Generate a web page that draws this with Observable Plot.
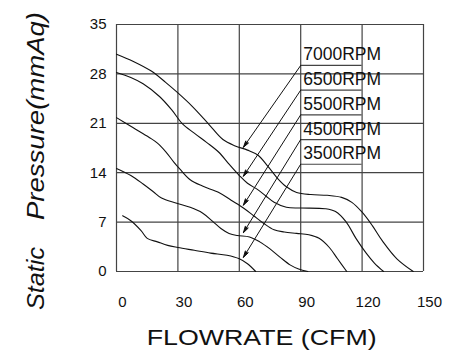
<!DOCTYPE html>
<html>
<head>
<meta charset="utf-8">
<script src="https://cdn.jsdelivr.net/npm/d3@7"></script>
<script src="https://cdn.jsdelivr.net/npm/@observablehq/plot@0.6"></script>
<style>
  html, body { margin: 0; padding: 0; background: #fff; }
  #chart { width: 473px; height: 361px; }
</style>
</head>
<body>
<div id="chart"></div>
<script>
// ---- data ----
const xTicks = [0, 30, 60, 90, 120, 150];
const yTicks = [0, 7, 14, 21, 28, 35];
const rpmLabels = ["7000RPM", "6500RPM", "5500RPM", "4500RPM", "3500RPM"];

const flow7000 = [0, 8, 17, 24, 30, 37, 45, 52, 58, 64, 69, 74, 79, 83, 88, 95, 103, 110, 115, 120, 125, 130, 137, 145];
const pres7000 = [30.8, 29.8, 28.4, 26.8, 25.3, 23.4, 20.9, 18.7, 17.8, 17.2, 16.5, 14.9, 13.1, 12.0, 11.2, 10.9, 10.8, 10.5, 9.8, 8.4, 6.5, 4.3, 1.8, 0];

const flow6500 = [0, 7, 13, 21, 27, 32, 38, 44, 50, 55, 60, 64, 69, 73, 77, 83, 90, 102, 107, 112, 117, 122, 126, 130.5];
const pres6500 = [28.2, 27.5, 26.6, 24.8, 22.9, 21.0, 19.6, 18.3, 16.9, 15.2, 13.6, 12.5, 11.6, 10.7, 9.8, 9.1, 9.0, 8.9, 8.5, 7.1, 4.7, 2.6, 1.2, 0];

const flow5500 = [0, 8, 16, 20, 24, 28, 31, 36, 42, 50, 56, 62, 67, 72, 77, 82, 88, 94, 99, 104, 108, 112.5];
const pres5500 = [21.8, 20.4, 19.0, 18.2, 17.0, 15.5, 14.5, 13.0, 12.1, 11.2, 10.1, 9.0, 7.9, 6.8, 5.9, 5.6, 5.4, 5.2, 4.7, 3.4, 1.8, 0];

const flow4500 = [0, 7, 13, 18, 22, 29, 36, 42, 47, 51, 55, 59, 65, 70, 75, 80, 85, 89, 93.5];
const pres4500 = [14.6, 13.6, 12.4, 11.3, 10.4, 9.7, 9.1, 8.3, 7.1, 6.1, 5.4, 5.1, 4.9, 4.2, 3.2, 2.0, 0.9, 0.35, 0];

const flow3500 = [3, 7, 12, 15, 20, 25, 30, 38, 46, 54, 60, 64, 68];
const pres3500 = [7.9, 7.2, 5.8, 4.7, 4.2, 3.7, 3.4, 3.0, 2.6, 2.3, 1.8, 1.1, 0];

// annotation values (data units)
const labelFlowStart = [90, 90, 90, 90, 90];
const labelFlowEnd = [120, 120, 120, 120, 120];
const labelPressure = [29.2, 25.7, 22.2, 18.7, 15.2];
const arrowTipFlow = [62, 62, 62, 62, 62];
const arrowTipPressure = [17.6, 13.5, 9.4, 5.5, 2.0];

// ---- build tables ----
const seriesFlows = [flow7000, flow6500, flow5500, flow4500, flow3500];
const seriesPres = [pres7000, pres6500, pres5500, pres4500, pres3500];
const rows = [];
rpmLabels.forEach((rpm, i) => {
  seriesFlows[i].forEach((f, j) => rows.push({rpm, flow: f, pressure: seriesPres[i][j]}));
});
const ann = rpmLabels.map((rpm, i) => ({
  rpm,
  x1: labelFlowStart[i], x2: labelFlowEnd[i], y: labelPressure[i],
  tx: arrowTipFlow[i], ty: arrowTipPressure[i]
}));

const ink = "#111";
const gridColor = "#444";

const chart = Plot.plot({
  width: 473,
  height: 361,
  marginLeft: 116,
  marginRight: 50,
  marginTop: 24,
  marginBottom: 90,
  style: {fontFamily: "'Liberation Sans', Arial, sans-serif", fontSize: "15px", background: "#fff", color: ink},
  x: {domain: [0, 150]},
  y: {domain: [0, 35]},
  marks: [
    Plot.gridX(xTicks, {stroke: gridColor, strokeOpacity: 1, strokeWidth: 1.2}),
    Plot.gridY(yTicks, {stroke: gridColor, strokeOpacity: 1, strokeWidth: 1.2}),
    Plot.axisX(xTicks, {tickSize: 0, tickPadding: 25, dx: 6, label: null, fill: ink}),
    Plot.axisY(yTicks, {tickSize: 0, tickPadding: 10, label: null, fill: ink}),
    Plot.line(rows, {x: "flow", y: "pressure", z: "rpm", curve: "catmull-rom", stroke: ink, strokeWidth: 1.1}),
    Plot.ruleY(ann, {y: "y", x1: "x1", x2: "x2", stroke: gridColor, strokeWidth: 1.2}),
    Plot.arrow(ann, {x1: "x1", y1: "y", x2: "tx", y2: "ty", stroke: ink, strokeWidth: 1, headLength: 10, headAngle: 30}),
    Plot.text(ann, {x: "x1", y: "y", text: "rpm", textAnchor: "start", lineAnchor: "bottom", dx: 2.5, dy: -5, fontSize: 17.5, fill: ink})
  ]
});

document.getElementById("chart").appendChild(chart);

const svg = d3.select(chart);
// filled arrowheads
svg.selectAll("g[aria-label='arrow'] path").style("fill", ink);

// axis titles
svg.append("text")
  .attr("x", 146.7).attr("y", 345)
  .attr("text-anchor", "start")
  .attr("textLength", 230).attr("lengthAdjust", "spacingAndGlyphs")
  .attr("font-size", 21.5).attr("fill", ink)
  .text("FLOWRATE (CFM)");
svg.append("text")
  .attr("transform", "translate(44,310) rotate(-90)")
  .attr("text-anchor", "start")
  .attr("textLength", 63).attr("lengthAdjust", "spacingAndGlyphs")
  .attr("font-size", 24).attr("font-style", "italic").attr("fill", ink)
  .text("Static");
svg.append("text")
  .attr("transform", "translate(44,220) rotate(-90)")
  .attr("text-anchor", "start")
  .attr("textLength", 208).attr("lengthAdjust", "spacingAndGlyphs")
  .attr("font-size", 24).attr("font-style", "italic").attr("fill", ink)
  .text("Pressure(mmAq)");
</script>
</body>
</html>
